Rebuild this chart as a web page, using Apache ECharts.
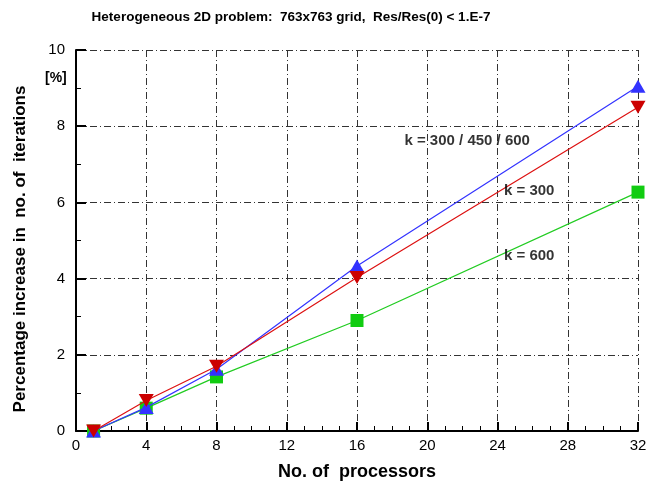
<!DOCTYPE html>
<html><head><meta charset="utf-8">
<script src="https://cdn.jsdelivr.net/npm/echarts@6/dist/echarts.min.js"></script>
<style>html,body{margin:0;padding:0;background:#fff}#c{width:647px;height:484px}</style>
</head><body><div id="c"></div>
<script>
const processors = [1, 4, 8, 16, 32];
const k300_450_600 = [0, 0.62, 1.62, 4.33, 9.05];
const k300 = [0, 0.8, 1.7, 4.03, 8.5];
const k600 = [0, 0.6, 1.42, 2.9, 6.27];
const xTicks = {min: 0, max: 32, interval: 4};
const yTicks = {min: 0, max: 10, interval: 2};
const titleText = 'Heterogeneous 2D problem:  763x763 grid,  Res/Res(0) < 1.E-7';
const xName = 'No. of  processors';
const yName = 'Percentage increase in  no. of  iterations';
const labels = [
  {text: 'k = 300 / 450 / 600', x: 18.7, y: 7.62},
  {text: 'k = 300', x: 24.37, y: 6.31},
  {text: 'k = 600', x: 24.37, y: 4.6}
];

const ff = '"Liberation Sans", Arial, sans-serif';
const chart = echarts.init(document.getElementById('c'));
function pairs(ys){ return processors.map((x,i)=>[x, ys[i]]); }
const grid = {left: 76, right: 9, top: 50, bottom: 53, outerBoundsMode: 'none', containLabel: false};
const gridLine = {show: true, lineStyle: {color: '#333', width: 1, type: [7, 3, 1, 3]}};
chart.setOption({
  animation: false,
  graphic: [
    {type: 'text', x: 291, y: 17,
      style: {text: titleText, font: 'bold 13.5px ' + ff, fill: '#000', align: 'center', verticalAlign: 'middle'}},
    {type: 'text', left: 45, top: 71,
      style: {text: '[%]', font: 'bold 14px ' + ff, fill: '#000'}},
    {type: 'text', x: 20, y: 249, rotation: Math.PI / 2,
      style: {text: yName, font: 'bold 17px ' + ff, fill: '#000', align: 'center', verticalAlign: 'middle'}}
  ],
  grid: grid,
  xAxis: {type: 'value', min: xTicks.min, max: xTicks.max, interval: xTicks.interval,
    name: xName, nameLocation: 'middle', nameGap: 32,
    nameTextStyle: {fontFamily: ff, fontSize: 18, fontWeight: 'bold', color: '#000'},
    axisLine: {show: true, lineStyle: {color: '#000', width: 2}},
    axisTick: {show: true, inside: true, length: 9, lineStyle: {color: '#000', width: 2}},
    minorTick: {show: true, splitNumber: 4, length: 5, lineStyle: {color: '#000', width: 1}},
    axisLabel: {fontFamily: ff, fontSize: 15, color: '#000', margin: 7},
    splitLine: gridLine},
  yAxis: {type: 'value', min: yTicks.min, max: yTicks.max, interval: yTicks.interval,
    axisLine: {show: true, lineStyle: {color: '#000', width: 2}},
    axisTick: {show: true, inside: true, length: 10, lineStyle: {color: '#000', width: 2}},
    minorTick: {show: true, splitNumber: 2, length: 5, lineStyle: {color: '#000', width: 1}},
    axisLabel: {fontFamily: ff, fontSize: 15, color: '#000', margin: 11},
    splitLine: gridLine},
  series: [
    {type: 'line', data: pairs(k600), symbol: 'rect', symbolSize: 13,
      lineStyle: {color: '#22cc22', width: 1.2}, itemStyle: {color: '#11cc11'}, z: 2},
    {type: 'line', data: pairs(k300_450_600), symbol: 'triangle', symbolSize: [15, 13],
      lineStyle: {color: '#3333ff', width: 1.2}, itemStyle: {color: '#3333ff'}, z: 3},
    {type: 'line', data: pairs(k300), symbol: 'triangle', symbolRotate: 180, symbolSize: [15, 13],
      lineStyle: {color: '#dd1111', width: 1.2}, itemStyle: {color: '#cc0000'}, z: 4},
    {type: 'scatter', data: labels.map(l=>[l.x, l.y, l.text]), symbolSize: 0, silent: true,
      label: {show: true, position: 'inside', formatter: p => p.data[2], textBorderWidth: 0,
        fontFamily: ff, fontSize: 15, fontWeight: 'bold', color: '#000', align: 'left'}, z: 5}
  ]
});
</script></body></html>
